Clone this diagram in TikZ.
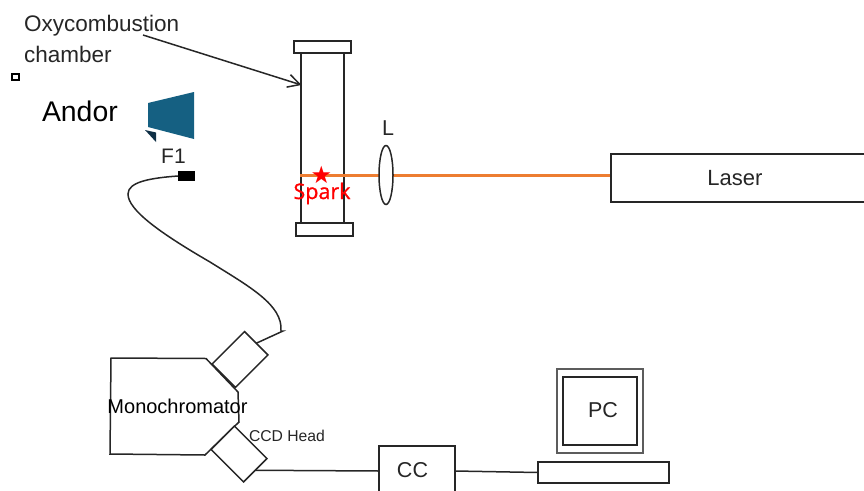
\documentclass[tikz,border=0pt]{standalone}
\usepackage{fontspec}
\setmainfont{Liberation Sans}
\newfontfamily\sparkfont[FakeBold=0.9]{Open Sans}
\newfontfamily\symfont{DejaVu Sans}
\usetikzlibrary{shapes.geometric,arrows.meta}
\definecolor{ink}{HTML}{262626}
\definecolor{beam}{HTML}{ED7D31}
\definecolor{teal}{HTML}{156082}
\definecolor{navy}{HTML}{0F2F45}
\tikzset{
  every node/.style={inner sep=0pt,outer sep=0pt},
  part/.style={draw=ink,line width=1.5pt,fill=white,rectangle},
  wire/.style={draw=ink,line width=1.5pt},
  beamline/.style={draw=beam,line width=2.8pt},
  lbl/.style={text=ink,anchor=base,font=\fontsize{21.5}{24}\selectfont}
}
\begin{document}
\begin{tikzpicture}[x=1pt,y=-1pt]
\useasboundingbox (0,0) rectangle (864,490);
\clip (0,0) rectangle (864,490);
% beam
\coordinate (beamA) at (300,175.5);
\coordinate (lensL) at (380,175.5);
\coordinate (lensR) at (392,175.5);
\coordinate (laserP) at (611,175.5);
% chamber
\node[part,minimum width=43pt,minimum height=170pt] (tube) at (322.5,138) {};
\node[part,minimum width=57pt,minimum height=12pt] (capT) at (322.5,47) {};
\node[part,minimum width=57pt,minimum height=13pt] (capB) at (324.5,229.5) {};
\draw[beamline] (beamA) -- (lensL);
\draw[beamline] (lensR) -- (laserP);
\node[draw=ink,line width=1.5pt,ellipse,minimum width=14pt,minimum height=59pt] (lens) at (386,175) {};
\node[part,minimum width=270pt,minimum height=48pt,anchor=west] (laser) at (611,178) {};
\node[lbl,font=\fontsize{22}{24}\selectfont] (lasertxt) at (735,185) {Laser};
\node[lbl] (ltxt) at (388,135) {L};
\node[font=\symfont\fontsize{24}{25}\selectfont,text=red] (star) at (321.5,175) {★};
\node[anchor=base,text=red,font=\sparkfont\fontsize{21.5}{24}\selectfont] (spark) at (322,199) {Spark};
% labels top-left
\node[anchor=base west,text=ink,font=\fontsize{22.5}{24}\selectfont] (oxy1) at (24,31) {Oxycombustion};
\node[anchor=base west,text=ink,font=\fontsize{22.5}{24}\selectfont] (oxy2) at (24,62) {chamber};
\coordinate (arrowS) at (143,35);
\coordinate (arrowE) at (301.5,85);
\draw[wire,-{Straight Barb[length=12pt,width=13pt,line width=1.5pt]}] (arrowS) -- (arrowE);
\node[draw=black,line width=2pt,minimum width=6.5pt,minimum height=6.5pt] (sq) at (15.5,77) {};
\node[anchor=base west,text=black,font=\fontsize{28.4}{30}\selectfont] (andor) at (42,121) {Andor};
\fill[teal] (148,103) -- (194,92) -- (194,139) -- (148,127) -- cycle;
\fill[navy] (145,130) -- (156,132.5) -- (156,142) -- cycle;
\node[lbl,font=\fontsize{21}{24}\selectfont] (f1) at (173.5,163) {F1};
% monochromator
\draw[wire,fill=white] (111,358) -- (206,358.5) -- (238,392) -- (239,422) -- (205,455) -- (110,454) -- cycle;
\node[part,minimum width=46pt,minimum height=33pt,rotate=45] (headU) at (240,359.5) {};
\node[part,minimum width=46pt,minimum height=33pt,rotate=-45] (headL) at (239,454) {};
% fibre
\node[fill=black,minimum width=17pt,minimum height=10pt] (fc) at (186.5,176) {};
\draw[wire] (fc.west) .. controls (150,178) and (128,182) .. (128,194)
  .. controls (128,210) and (160,233) .. (210,262)
  .. controls (250,287) and (283,305) .. (281,331)
  -- (283,331) -- (headU.east);
\node[anchor=base,text=black,font=\fontsize{20}{22}\selectfont] (mono) at (177.5,413) {Monochromator};
\node[anchor=base west,text=ink,font=\fontsize{15.7}{18}\selectfont] (ccd) at (249,441) {CCD Head};
% electronics
\node[part,minimum width=76pt,minimum height=50pt] (cc) at (417,471) {};
\node[lbl] (cctxt) at (412.5,477) {CC};
\node[part,minimum width=131pt,minimum height=21pt] (kbd) at (603.5,472.5) {};
\node[draw=ink!75,line width=1.7pt,fill=white,minimum width=86pt,minimum height=84pt] (mon) at (600,411) {};
\node[part,minimum width=74pt,minimum height=68pt] (scr) at (600,411) {};
\node[lbl] (pctxt) at (603,417) {PC};
\draw[wire] (headL.east) -- (cc.west);
\draw[wire] (cc.east) -- (kbd.west);
\end{tikzpicture}
\end{document}
